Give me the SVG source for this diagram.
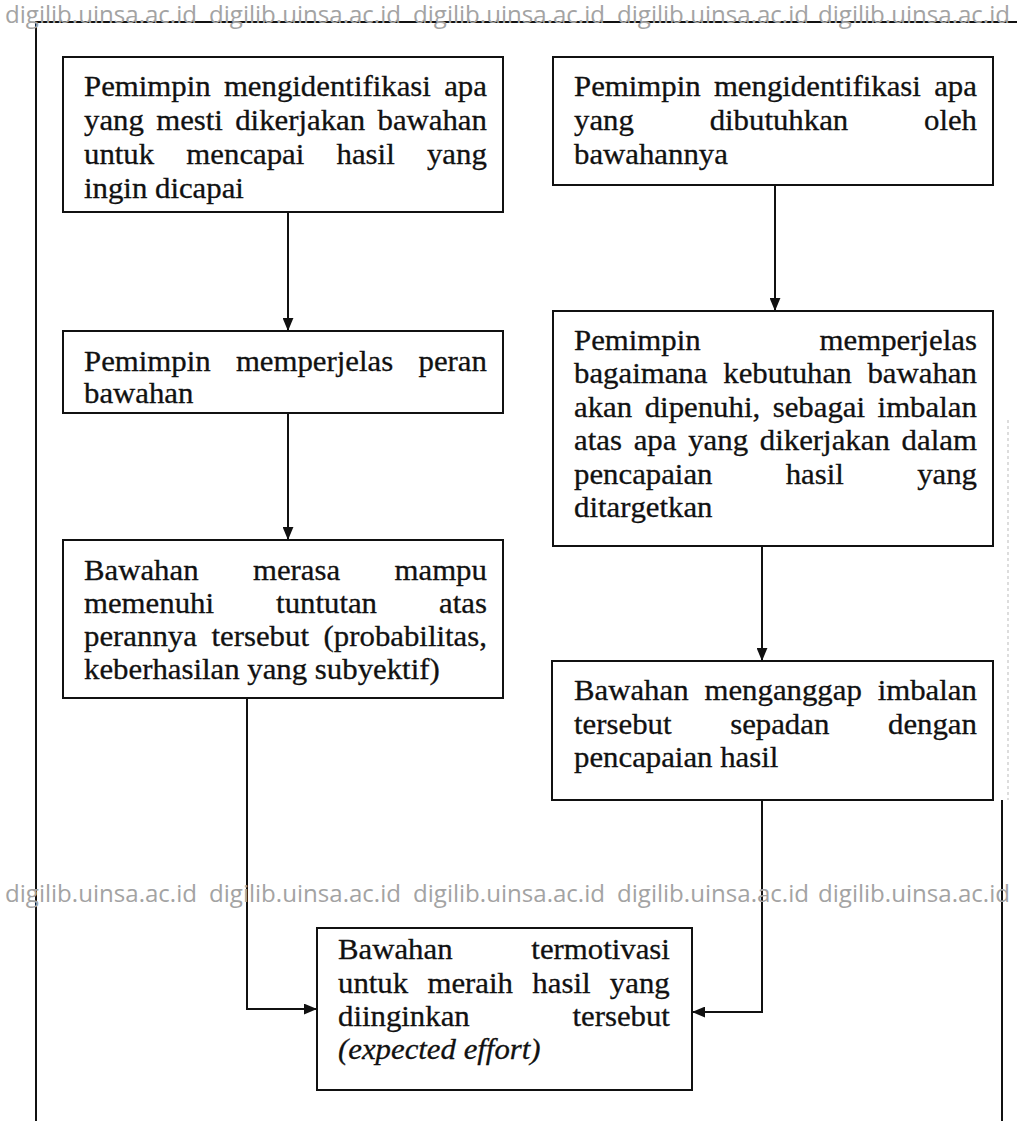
<svg xmlns="http://www.w3.org/2000/svg" width="1017" height="1121" viewBox="0 0 1017 1121">
<style>
.bg{fill:#fff}
.box{fill:#fff;stroke:#111;stroke-width:2}
.frame{fill:none;stroke:#111;stroke-width:2}
.con{fill:none;stroke:#111;stroke-width:2}
.t{font-family:"Liberation Serif","Times New Roman",serif;font-size:30px;fill:#111;stroke:#111;stroke-width:0.3;font-kerning:none;font-variant-ligatures:none}
.it{font-style:italic}
.wm{font-family:"Open Sans","Noto Sans","Liberation Sans",sans-serif;font-size:23px;fill:#a3a3a3}
</style>
<defs>
<marker id="arr" markerUnits="userSpaceOnUse" viewBox="0 0 12 10" markerWidth="13" markerHeight="11" refX="12" refY="5" orient="auto">
<path d="M0,0 L12,5 L0,10 z" fill="#111"/>
</marker>
</defs>
<rect class="bg" x="0" y="0" width="1017" height="1121"/>
<g id="frame">
<path class="frame" d="M36,1121 V22 H1017"/>
<path class="frame" d="M1002,800 V1121"/>
<path d="M1008,420 V800" stroke="#bbb" stroke-width="1" stroke-dasharray="3 3" fill="none"/>
</g>
<g id="connectors">
<path class="con" d="M288,212 V331" marker-end="url(#arr)"/>
<path class="con" d="M288,413 V540" marker-end="url(#arr)"/>
<path class="con" d="M775,185 V311" marker-end="url(#arr)"/>
<path class="con" d="M762,546 V661" marker-end="url(#arr)"/>
<path class="con" d="M247,698 V1009 H317" marker-end="url(#arr)"/>
<path class="con" d="M762,800 V1012 H692" marker-end="url(#arr)"/>
</g>
<g id="n1">
<rect class="box" x="63" y="57" width="440" height="155"/>
<g transform="translate(84 0) scale(1.027 1)">
<text class="t" x="0" y="96" word-spacing="5.46">Pemimpin mengidentifikasi apa</text>
<text class="t" x="0" y="130" word-spacing="4.5">yang mesti dikerjakan bawahan</text>
<text class="t" x="0" y="164" word-spacing="23.88">untuk mencapai hasil yang</text>
<text class="t" x="0" y="198">ingin dicapai</text>
</g>
</g>
<g id="n2">
<rect class="box" x="553" y="57" width="440" height="128"/>
<g transform="translate(574 0) scale(1.027 1)">
<text class="t" x="0" y="96" word-spacing="5.46">Pemimpin mengidentifikasi apa</text>
<text class="t" x="0" y="130" word-spacing="66.3">yang dibutuhkan oleh</text>
<text class="t" x="0" y="164">bawahannya</text>
</g>
</g>
<g id="n3">
<rect class="box" x="63" y="331" width="440" height="82"/>
<g transform="translate(84 0) scale(1.027 1)">
<text class="t" x="0" y="371" word-spacing="17.13">Pemimpin memperjelas peran</text>
<text class="t" x="0" y="403">bawahan</text>
</g>
</g>
<g id="n4">
<rect class="box" x="553" y="311" width="440" height="235"/>
<g transform="translate(574 0) scale(1.027 1)">
<text class="t" x="0" y="350" word-spacing="108.39">Pemimpin memperjelas</text>
<text class="t" x="0" y="383.5" word-spacing="7.98">bagaimana kebutuhan bawahan</text>
<text class="t" x="0" y="417" word-spacing="4.74">akan dipenuhi, sebagai imbalan</text>
<text class="t" x="0" y="450.5" word-spacing="3.99">atas apa yang dikerjakan dalam</text>
<text class="t" x="0" y="484" word-spacing="63.83">pencapaian hasil yang</text>
<text class="t" x="0" y="517.5">ditargetkan</text>
</g>
</g>
<g id="n5">
<rect class="box" x="63" y="540" width="440" height="158"/>
<g transform="translate(84 0) scale(1.027 1)">
<text class="t" x="0" y="580" word-spacing="45.47">Bawahan merasa mampu</text>
<text class="t" x="0" y="613" word-spacing="52.97">memenuhi tuntutan atas</text>
<text class="t" x="0" y="646" word-spacing="6.75">perannya tersebut (probabilitas,</text>
<text class="t" x="0" y="679">keberhasilan yang subyektif)</text>
</g>
</g>
<g id="n7">
<rect class="box" x="552" y="661" width="441" height="139"/>
<g transform="translate(574 0) scale(1.027 1)">
<text class="t" x="0" y="700" word-spacing="7.98">Bawahan menganggap imbalan</text>
<text class="t" x="0" y="734" word-spacing="49.64">tersebut sepadan dengan</text>
<text class="t" x="0" y="767">pencapaian hasil</text>
</g>
</g>
<g id="n6">
<rect class="box" x="317" y="928" width="375" height="162"/>
<g transform="translate(338 0) scale(1.027 1)">
<text class="t" x="0" y="959" word-spacing="69.19">Bawahan termotivasi</text>
<text class="t" x="0" y="993" word-spacing="11.35">untuk meraih hasil yang</text>
<text class="t" x="0" y="1026" word-spacing="92.54">diinginkan tersebut</text>
<text class="t it" x="0" y="1059">(expected effort)</text>
</g>
</g>
<g id="watermark">
<text class="wm" x="5" y="23" textLength="192" lengthAdjust="spacingAndGlyphs">digilib.uinsa.ac.id</text>
<text class="wm" x="209" y="23" textLength="192" lengthAdjust="spacingAndGlyphs">digilib.uinsa.ac.id</text>
<text class="wm" x="413" y="23" textLength="192" lengthAdjust="spacingAndGlyphs">digilib.uinsa.ac.id</text>
<text class="wm" x="617" y="23" textLength="192" lengthAdjust="spacingAndGlyphs">digilib.uinsa.ac.id</text>
<text class="wm" x="818" y="23" textLength="192" lengthAdjust="spacingAndGlyphs">digilib.uinsa.ac.id</text>
<text class="wm" x="5" y="902" textLength="192" lengthAdjust="spacingAndGlyphs">digilib.uinsa.ac.id</text>
<text class="wm" x="209" y="902" textLength="192" lengthAdjust="spacingAndGlyphs">digilib.uinsa.ac.id</text>
<text class="wm" x="413" y="902" textLength="192" lengthAdjust="spacingAndGlyphs">digilib.uinsa.ac.id</text>
<text class="wm" x="617" y="902" textLength="192" lengthAdjust="spacingAndGlyphs">digilib.uinsa.ac.id</text>
<text class="wm" x="818" y="902" textLength="192" lengthAdjust="spacingAndGlyphs">digilib.uinsa.ac.id</text>
</g>
</svg>
